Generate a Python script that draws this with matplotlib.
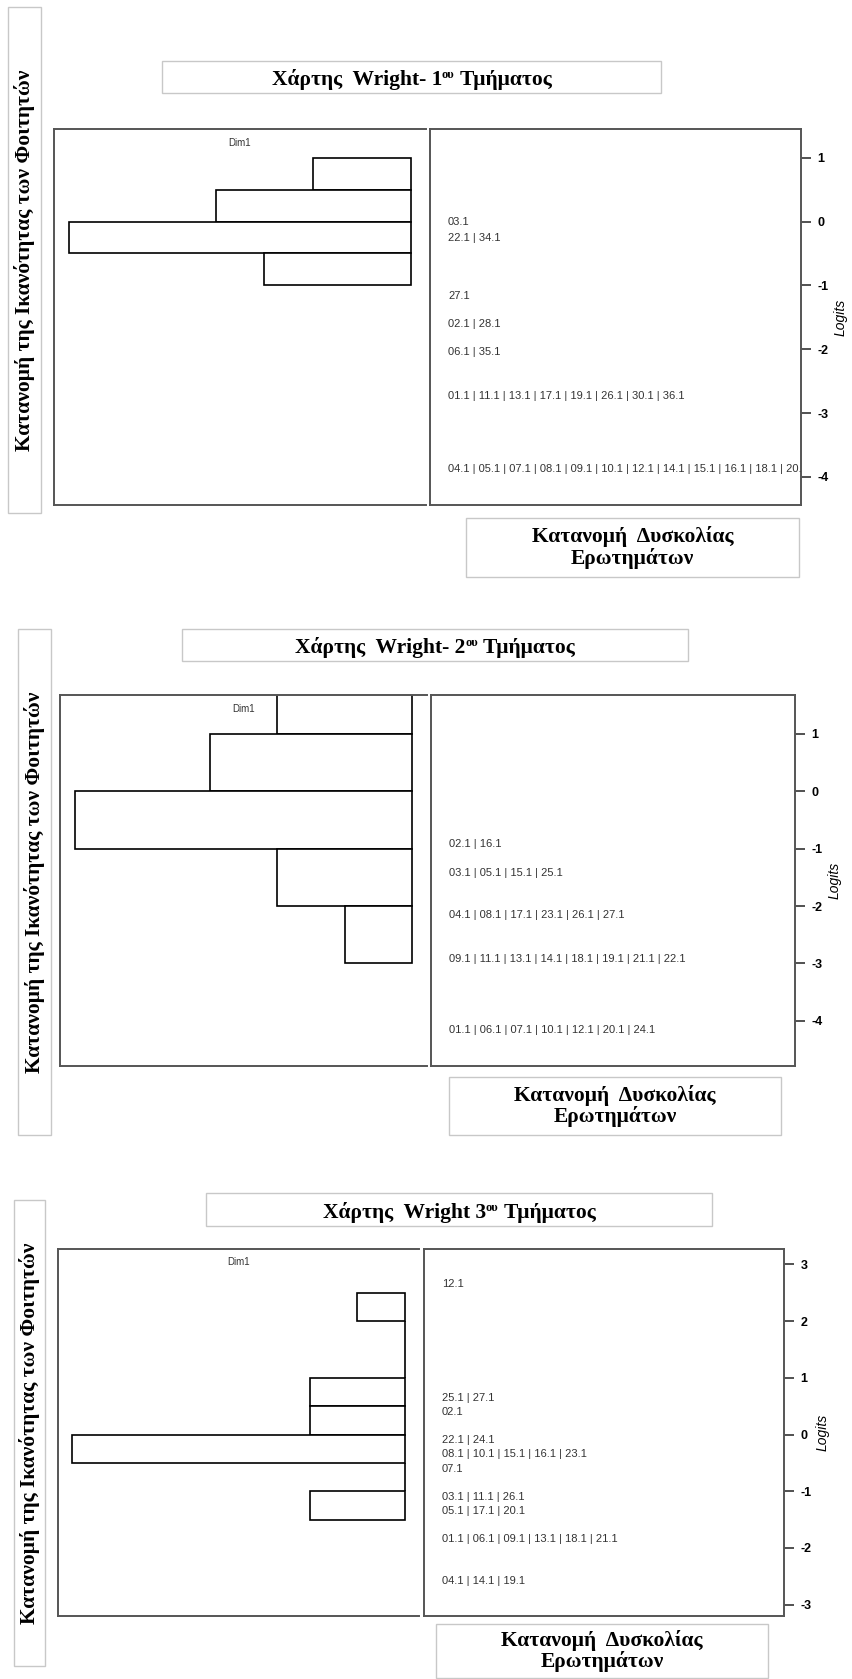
import numpy as np
import matplotlib
matplotlib.use('Agg')
import matplotlib.pyplot as plt
from matplotlib.patches import Rectangle
from matplotlib.transforms import ScaledTranslation

# ---- data ----
# panel 1
p1_bin_top = [1.0, 0.5, 0.0, -0.5]
p1_counts = [2, 4, 7, 3]
p1_binw = 0.5
p1_item_y = [-0.01, -0.25, -1.16, -1.6, -2.05, -2.74, -3.87]
p1_item_lab = ['03.1', '22.1 | 34.1', '27.1', '02.1 | 28.1', '06.1 | 35.1',
               '01.1 | 11.1 | 13.1 | 17.1 | 19.1 | 26.1 | 30.1 | 36.1',
               '04.1 | 05.1 | 07.1 | 08.1 | 09.1 | 10.1 | 12.1 | 14.1 | 15.1 | 16.1 | 18.1 | 20.1']
p1_ticks = [1, 0, -1, -2, -3, -4]

# panel 2
p2_bin_top = [2.0, 1.0, 0.0, -1.0, -2.0]
p2_counts = [2, 3, 5, 2, 1]
p2_binw = 1.0
p2_item_y = [-0.92, -1.42, -2.16, -2.92, -4.17]
p2_item_lab = ['02.1 | 16.1', '03.1 | 05.1 | 15.1 | 25.1',
               '04.1 | 08.1 | 17.1 | 23.1 | 26.1 | 27.1',
               '09.1 | 11.1 | 13.1 | 14.1 | 18.1 | 19.1 | 21.1 | 22.1',
               '01.1 | 06.1 | 07.1 | 10.1 | 12.1 | 20.1 | 24.1']
p2_ticks = [1, 0, -1, -2, -3, -4]

# panel 3
p3_bin_top = [2.5, 2.0, 1.5, 1.0, 0.5, 0.0, -0.5, -1.0]
p3_counts = [1, 0, 0, 2, 2, 7, 0, 2]
p3_binw = 0.5
p3_item_y = [2.65, 0.65, 0.40, -0.09, -0.35, -0.60, -1.10, -1.35, -1.85, -2.59]
p3_item_lab = ['12.1', '25.1 | 27.1', '02.1', '22.1 | 24.1',
               '08.1 | 10.1 | 15.1 | 16.1 | 23.1', '07.1',
               '03.1 | 11.1 | 26.1', '05.1 | 17.1 | 20.1',
               '01.1 | 06.1 | 09.1 | 13.1 | 18.1 | 21.1', '04.1 | 14.1 | 19.1']
p3_ticks = [3, 2, 1, 0, -1, -2, -3]

titles_num = ['1', '2', '3']
titles_sep = ['- ', '- ', ' ']
left_label = 'Κατανομή της Ικανότητας των Φοιτητών'
bottom_label = 'Κατανομή  Δυσκολίας\nΕρωτημάτων'

W, H = 853, 1679
fig = plt.figure(figsize=(W / 100, H / 100), dpi=100)
serif = 'Liberation Serif'
sans = 'Liberation Sans'
frame_c = '#555555'


def rect(x0, y0, x1, y1):
    return [x0 / W, 1 - y1 / H, (x1 - x0) / W, (y1 - y0) / H]


def fig_box(x0, y0, x1, y1):
    fig.patches.append(Rectangle((x0 / W, 1 - y1 / H), (x1 - x0) / W, (y1 - y0) / H,
                                 transform=fig.transFigure, facecolor='white',
                                 edgecolor='#c8c8c8', lw=1.0, zorder=0))


def title(cx, base_y, num, sep):
    r = fig.canvas.get_renderer()
    kw = dict(family=serif, weight='bold', fontsize=15.5, va='baseline')
    a = fig.text(0, 1 - base_y / H, 'Χάρτης  Wright' + sep + num, **kw)
    b = fig.text(0, 1 - (base_y - 7) / H, 'ου', family=serif, weight='bold',
                 fontsize=9, va='baseline')
    c = fig.text(0, 1 - base_y / H, ' Τμήματος', **kw)
    wa = a.get_window_extent(r).width
    wb = b.get_window_extent(r).width
    wc = c.get_window_extent(r).width
    x = cx - (wa + wb + wc) / 2
    a.set_x(x / W)
    b.set_x((x + wa) / W)
    c.set_x((x + wa + wb) / W)


def panel(hx, ix, y0, y1, ylim, xlim, bin_top, counts, binw, item_y, item_lab, ticks,
          num, sep, tbox, base_y, lbox, bbox):
    # label boxes
    fig_box(*tbox)
    title((tbox[0] + tbox[2]) / 2, base_y, num, sep)
    fig_box(*lbox)
    fig.text((lbox[0] + lbox[2]) / 2 / W, 1 - (lbox[1] + lbox[3]) / 2 / H, left_label,
             rotation=90, ha='center', va='center', family=serif, weight='bold',
             fontsize=15.5)
    fig_box(*bbox)
    fig.text((bbox[0] + bbox[2]) / 2 / W, 1 - (bbox[1] + bbox[3]) / 2 / H, bottom_label,
             ha='center', va='center', family=serif, weight='bold', fontsize=15.5,
             linespacing=1.05)

    # person histogram
    ax = fig.add_axes(rect(hx[0], y0, hx[1], y1))
    centers = np.array(bin_top) - binw / 2
    ax.barh(centers, counts, height=binw, color='white', edgecolor='black', lw=1.2)
    ax.set_xlim(*xlim)
    ax.set_ylim(*ylim)
    ax.set_xticks([])
    ax.set_yticks([])
    ax.spines['right'].set_visible(False)
    for s in ['top', 'left', 'bottom']:
        ax.spines[s].set_color(frame_c)
        ax.spines[s].set_linewidth(1.4)
    ax.annotate('Dim1', xy=(0.5, 1), xycoords='axes fraction', xytext=(0, -10),
                textcoords='offset points', ha='center', va='center',
                family=sans, fontsize=7, color='#333333')

    # item map
    bx = fig.add_axes(rect(ix[0], y0, ix[1], y1))
    bx.set_ylim(*ylim)
    bx.set_xlim(0, 1)
    bx.set_xticks([])
    bx.yaxis.tick_right()
    bx.set_yticks(ticks)
    bx.set_yticklabels([str(t) for t in ticks], fontweight='bold', family=sans, fontsize=9)
    bx.tick_params(axis='y', length=7, width=1.2, pad=5, color='#333333')
    for s in bx.spines.values():
        s.set_color(frame_c)
        s.set_linewidth(1.4)
    bx.yaxis.set_label_position('right')
    bx.set_ylabel('Logits', family=sans, style='italic', fontsize=10, labelpad=3)
    trans = bx.get_yaxis_transform() + ScaledTranslation(0.18, 0, fig.dpi_scale_trans)
    for y, lab in zip(item_y, item_lab):
        bx.text(0, y, lab, transform=trans, va='center', ha='left', family=sans,
                fontsize=8, color='#333333', clip_on=True)


panel((54, 426), (430, 801), 129, 505, (-4.44, 1.45), (7.31, -0.31),
      p1_bin_top, p1_counts, p1_binw, p1_item_y, p1_item_lab, p1_ticks,
      titles_num[0], titles_sep[0], (162, 61, 661, 93), 85,
      (8, 7, 41, 513), (466, 518, 799, 577))

panel((60, 427), (431, 795), 695, 1066, (-4.79, 1.68), (5.22, -0.22),
      p2_bin_top, p2_counts, p2_binw, p2_item_y, p2_item_lab, p2_ticks,
      titles_num[1], titles_sep[1], (182, 629, 688, 661), 653,
      (18, 629, 51, 1135), (449, 1077, 781, 1135))

panel((58, 419.5), (424, 784), 1248.6, 1616, (-3.2, 3.28), (7.30, -0.31),
      p3_bin_top, p3_counts, p3_binw, p3_item_y, p3_item_lab, p3_ticks,
      titles_num[2], titles_sep[2], (206, 1193, 712, 1226), 1218,
      (14, 1200, 45, 1666), (436, 1624, 768, 1678))

plt.savefig('out.png', dpi=100)
